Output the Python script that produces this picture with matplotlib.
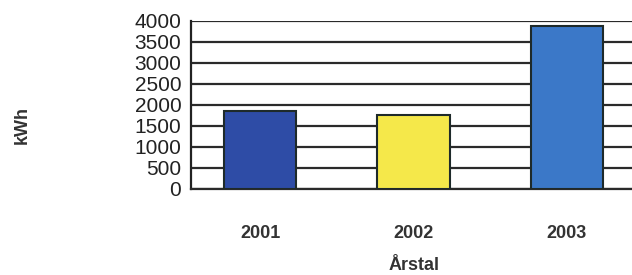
import matplotlib.pyplot as plt

years = ['2001', '2002', '2003']
kwh = [1840, 1750, 3870]
colors = ['#2E4CA6', '#F5E84A', '#3B78C8']
yticks = [0, 500, 1000, 1500, 2000, 2500, 3000, 3500, 4000]

plt.rcParams['font.family'] = ['Liberation Sans', 'DejaVu Sans']

fig = plt.figure(figsize=(6.32, 2.75), dpi=100)
ax = fig.add_axes([191/632, 86.3/275, 445/632, 168/275])

x = range(len(years))
ax.bar(x, kwh, width=0.47, color=colors, edgecolor='#1e2a2a', linewidth=1.5, zorder=3)

ax.set_ylim(0, 4000)
ax.set_xlim(-0.45, 2.45)
ax.set_yticks(yticks)
ax.set_yticklabels([str(v) for v in yticks], fontsize=15, color='#222222')
ax.yaxis.grid(True, color='#2a2a2a', linewidth=1.6, zorder=0)
ax.tick_params(axis='both', length=0)
ax.tick_params(axis='y', pad=7)

ax.set_xticks(list(x))
ax.set_xticklabels(years, fontsize=13, fontweight='bold', color='#333333')
ax.tick_params(axis='x', pad=26)

for s in ['top', 'right']:
    ax.spines[s].set_visible(False)
ax.spines['left'].set_color('#222222')
ax.spines['left'].set_linewidth(1.6)
ax.spines['bottom'].set_color('#2a2a2a')
ax.spines['bottom'].set_linewidth(1.6)

fig.text(414/632, 1 - 266/275, 'Årstal', fontsize=13, fontweight='bold', color='#333333',
         ha='center', va='center')
fig.text(22/632, 1 - 125/275, 'kWh', fontsize=13, fontweight='bold', color='#333333',
         ha='center', va='center', rotation=90)

fig.savefig('out.png', dpi=100)
